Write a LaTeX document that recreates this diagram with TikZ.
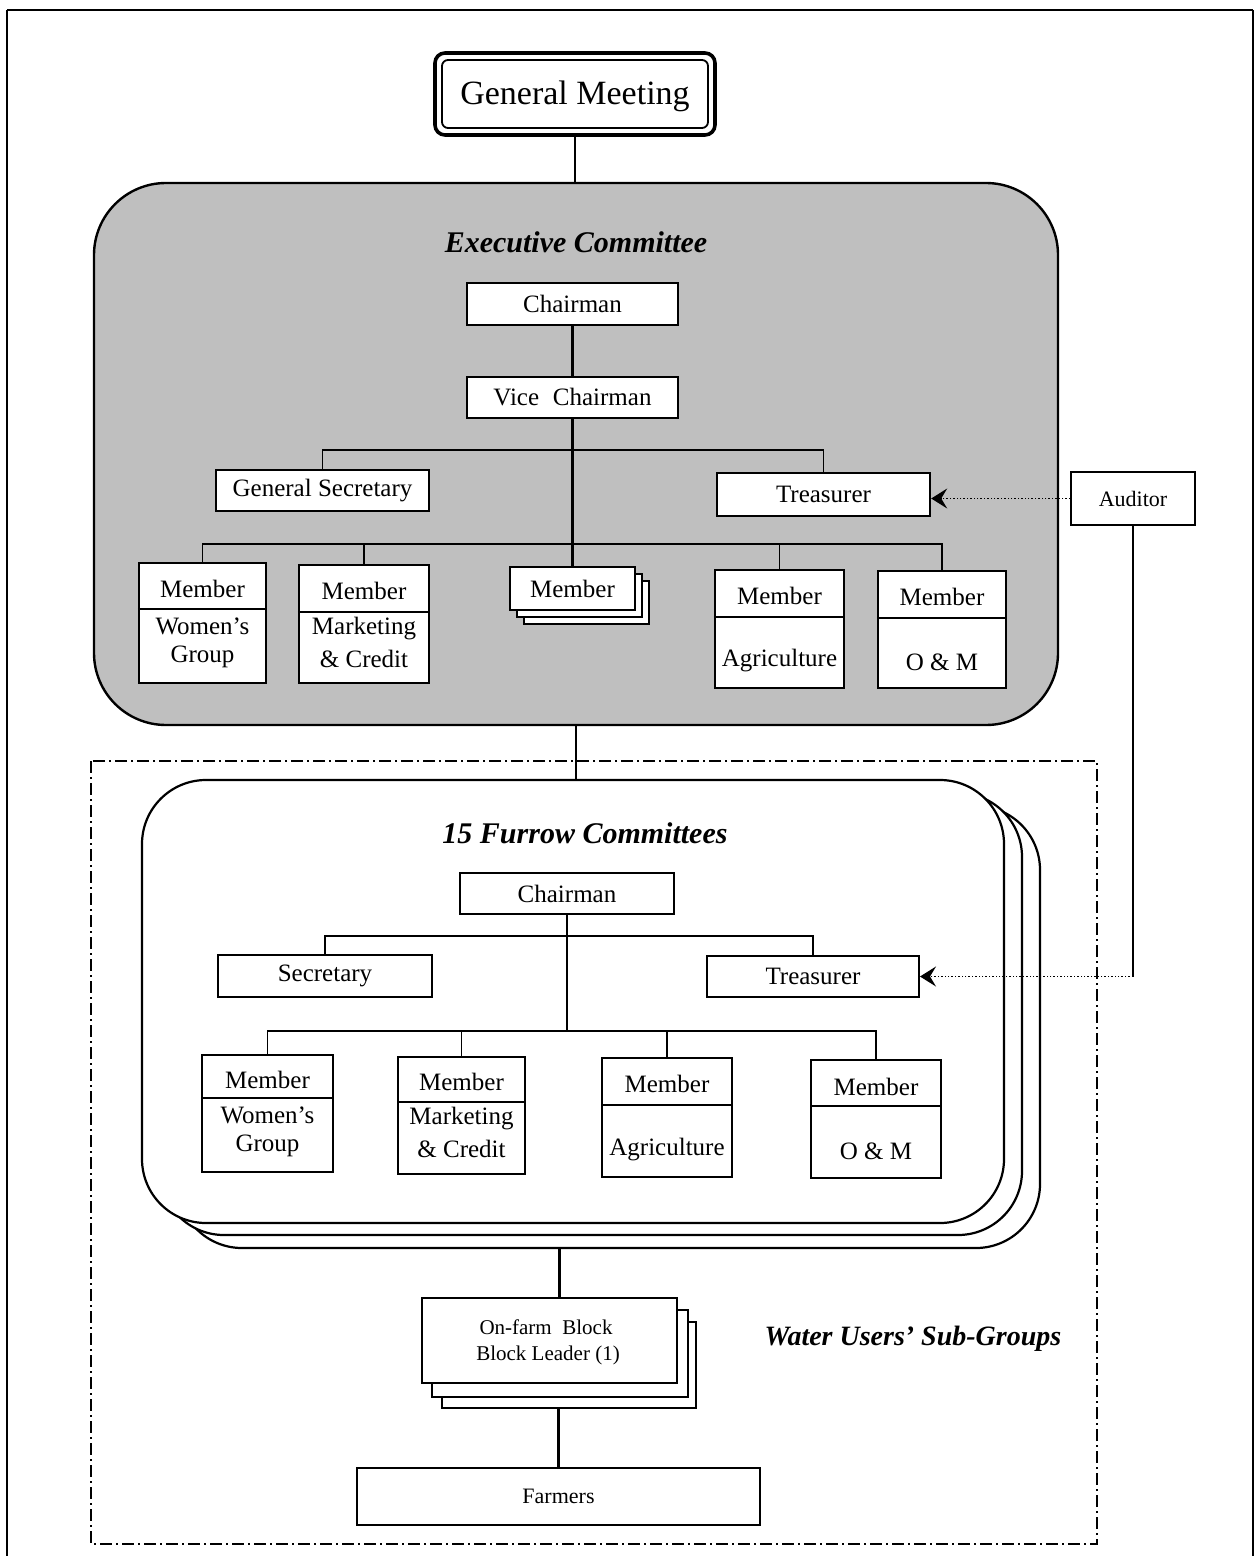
\documentclass[tikz,border=0pt]{standalone}
\usepackage{fontspec}
\setmainfont{Liberation Serif}
\usetikzlibrary{fit,arrows.meta}
\begin{document}
\begin{tikzpicture}[x=0.5pt,y=-0.5pt,
  box/.style={draw, line width=1pt, fill=white, inner sep=0pt},
  ebox/.style={box, line width=1.2pt},
  txt/.style={font=\fontsize{12.5}{14}\selectfont, inner sep=0pt},
  stxt/.style={font=\fontsize{10.5}{12}\selectfont, inner sep=0pt},
  trunk/.style={line width=1.4pt},
  bar/.style={line width=0.9pt},
  divl/.style={line width=0.7pt},
  ttl/.style={font=\fontsize{15}{17}\selectfont\bfseries\itshape, inner sep=0pt},
  audarr/.style={densely dotted, line width=0.7pt, -{Stealth[length=8pt,width=10pt,inset=3pt]}},
  ddash/.style={line width=0.9pt, dash pattern=on 6pt off 2pt on 1pt off 2pt},
  bigbox/.style={draw, line width=1.1pt, fill=white, rounded corners=32pt, inner sep=0pt}
]
\useasboundingbox (0,0) rectangle (1258,1556);
% outer frame
\draw[line width=0.6pt] (7,10) -- (1253,10);
\draw[line width=1pt] (7,1556) -- (7,10);
\draw[line width=1pt] (1253,10) -- (1253,1556);

% General meeting
\node[draw, line width=1.8pt, rounded corners=5pt, inner sep=0pt, fit={(435,53)(715,135)}] (gm) {};
\node[draw, line width=0.9pt, rounded corners=3pt, inner sep=0pt, fit={(442,60)(708,128)}] (gmi) {};
\node[font=\fontsize{17}{20}\selectfont, inner sep=0pt] (gmt) at (575,96) {General Meeting};

% Executive committee panel
\node[draw, line width=1.2pt, rounded corners=36pt, fill=black!25, inner sep=0pt, fit={(94,183)(1058,725)}] (exec) {};
\draw[trunk] (gm.south) -- (gm.south |- exec.north);
\node[ttl] (exect) at (576,242) {Executive Committee};

\coordinate (b1) at (0,450);
\coordinate (b2) at (0,544);

\node[ebox, fit={(467,283)(678,325)}] (ch1) {};
\node[txt] (ch1t) at (ch1.center) {Chairman};
\node[ebox, fit={(467,377)(678,418)}] (vc1) {};
\node[txt] (vc1t) at (vc1.center) {Vice\hspace{0.3em} Chairman};
\node[ebox, fit={(216,470)(429,511)}] (gs) {};
\node[txt] (gst) at (gs.center) {General Secretary};
\node[ebox, fit={(717,473)(930,516)}] (tr1) {};
\node[txt] (tr1t) at (tr1.center) {Treasurer};

% members
\node[ebox, fit={(139,563)(266,683)}] (m1) {};
\draw[divl] (m1.west |- 0,609) -- (m1.east |- 0,609);
\node[txt] (m1a) at (202.5,589) {Member};
\node[txt] (m1b) at (202.5,626) {Women's};
\node[txt] (m1c) at (202.5,657) {Group};

\node[ebox, fit={(299,565)(429,683)}] (m2) {};
\draw[divl] (m2.west |- 0,612) -- (m2.east |- 0,612);
\node[txt] (m2a) at (364,591) {Member};
\node[txt] (m2b) at (364,629) {Marketing};
\node[txt] (m2c) at (364,659) {\& Credit};

\node[ebox, fit={(524,581)(649,624)}] (m3c) {};
\node[ebox, fit={(517,574)(642,617)}] (m3b) {};
\node[ebox, fit={(510,567)(635,610)}] (m3) {};
\node[txt] (m3t) at (m3.center) {Member};

\node[ebox, fit={(715,570)(844,688)}] (m4) {};
\draw[divl] (m4.west |- 0,617) -- (m4.east |- 0,617);
\node[txt] (m4a) at (779.5,596) {Member};
\node[txt] (m4b) at (779.5,661) {Agriculture};

\node[ebox, fit={(878,571)(1006,688)}] (m5) {};
\draw[divl] (m5.west |- 0,618) -- (m5.east |- 0,618);
\node[txt] (m5a) at (942,597) {Member};
\node[txt] (m5b) at (942,662) {O \& M};

\draw[trunk] (ch1.south) -- (vc1.north);
\draw[trunk] (vc1.south) -- (m3.north);
\draw[bar] (gs.north) -- (gs.north |- b1) -- (tr1.north |- b1) -- (tr1.north);
\draw[bar] (m1.north) -- (m1.north |- b2) -- (m5.north |- b2) -- (m5.north);
\draw[bar] (m2.north) -- (m2.north |- b2);
\draw[bar] (m4.north) -- (m4.north |- b2);

% auditor
\node[box, line width=0.8pt, fit={(1071,472)(1195,525)}] (aud) {};
\node[font=\fontsize{11}{13}\selectfont, inner sep=0pt] (audt) at (aud.center) {Auditor};
\draw[audarr] (aud.west) -- (aud.west -| tr1.east);

% dash-dot frame of water users' sub-groups
\draw[ddash] (91,761) rectangle (1097,1544);

% furrow committees stack
\node[bigbox, fit={(178,806)(1040,1248)}] (fr3) {};
\node[bigbox, fit={(160,793)(1022,1235)}] (fr2) {};
\node[bigbox, fit={(142,780)(1004,1223)}] (fr1) {};
\draw[trunk] (exec.south) -- (exec.south |- fr1.north);
\node[ttl] (frt) at (585,833) {15 Furrow Committees};

\coordinate (fb1) at (0,936);
\coordinate (fb2) at (0,1031);

\node[box, fit={(460,873)(674,914)}] (fch) {};
\node[txt] (fcht) at (fch.center) {Chairman};
\node[box, fit={(218,955)(432,997)}] (fs) {};
\node[txt] (fst) at (fs.center) {Secretary};
\node[box, fit={(707,956)(919,997)}] (ft) {};
\node[txt] (ftt) at (ft.center) {Treasurer};

\node[box, fit={(202,1055)(333,1172)}] (fw) {};
\draw[divl] (fw.west |- 0,1098) -- (fw.east |- 0,1098);
\node[txt] (fwa) at (267.5,1080) {Member};
\node[txt] (fwb) at (267.5,1115) {Women's};
\node[txt] (fwc) at (267.5,1146) {Group};

\node[box, fit={(398,1057)(525,1174)}] (fm) {};
\draw[divl] (fm.west |- 0,1102) -- (fm.east |- 0,1102);
\node[txt] (fma) at (461.5,1082) {Member};
\node[txt] (fmb) at (461.5,1119) {Marketing};
\node[txt] (fmc) at (461.5,1149) {\& Credit};

\node[box, fit={(602,1058)(732,1177)}] (fag) {};
\draw[divl] (fag.west |- 0,1105) -- (fag.east |- 0,1105);
\node[txt] (faga) at (667,1084) {Member};
\node[txt] (fagb) at (667,1150) {Agriculture};

\node[box, fit={(811,1060)(941,1178)}] (fo) {};
\draw[divl] (fo.west |- 0,1106) -- (fo.east |- 0,1106);
\node[txt] (foa) at (876,1087) {Member};
\node[txt] (fob) at (876,1151) {O \& M};

\draw[bar] (fch.south) -- (fch.south |- fb2);
\draw[bar] (fs.north) -- (fs.north |- fb1) -- (ft.north |- fb1) -- (ft.north);
\draw[bar] (fw.north) -- (fw.north |- fb2) -- (fo.north |- fb2) -- (fo.north);
\draw[bar] (fm.north) -- (fm.north |- fb2);
\draw[bar] (fag.north) -- (fag.north |- fb2);

% auditor to furrow treasurer
\draw[line width=0.8pt] (aud.south) -- (aud.south |- ft.east);
\draw[audarr] (aud.south |- ft.east) -- (ft.east);

% on-farm block stack
\node[box, fit={(442,1322)(696,1408)}] (ob3) {};
\node[box, fit={(432,1310)(688,1397)}] (ob2) {};
\node[box, fit={(422,1298)(677,1383)}] (ob1) {};
\node[stxt] (obt1) at (546,1327) {On-farm\hspace{0.5em}Block};
\node[stxt] (obt2) at (548,1355) {Block Leader (1)};
\coordinate (obtop) at ([xshift=5pt]ob1.north);
\draw[trunk] (obtop) -- (obtop |- fr3.south);

\node[box, fit={(357,1468)(760,1525)}] (farm) {};
\node[font=\fontsize{11}{13}\selectfont, inner sep=0pt] (farmt) at (farm.center) {Farmers};
\draw[trunk] (farm.north) -- (farm.north |- ob3.south);

\node[font=\fontsize{14}{16}\selectfont\bfseries\itshape, inner sep=0pt] (wu) at (913,1339) {Water Users' Sub-Groups};
\end{tikzpicture}
\end{document}
